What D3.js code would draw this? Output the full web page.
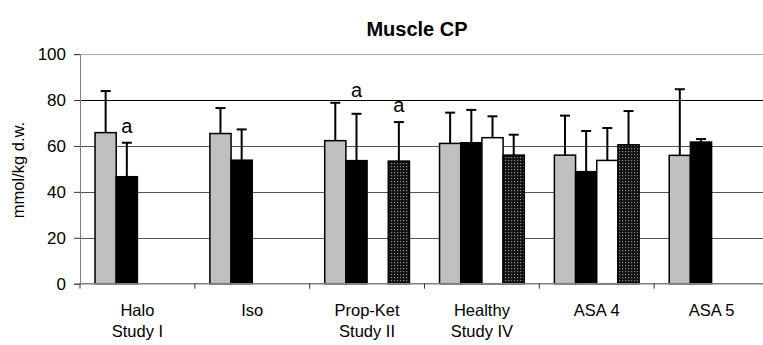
<!DOCTYPE html>
<html>
<head>
<meta charset="utf-8">
<script src="https://cdn.jsdelivr.net/npm/d3@7"></script>
<style>
  html, body { margin: 0; padding: 0; background: #fff; }
  svg { display: block; font-family: "Liberation Sans", Arial, sans-serif; }
</style>
</head>
<body>
<svg id="chart" width="763" height="345"></svg>
<script>
// Muscle creatine phosphate by study group (mean with upper SD)
const categories = [["Halo", "Study I"], ["Iso"], ["Prop-Ket", "Study II"], ["Healthy", "Study IV"], ["ASA 4"], ["ASA 5"]];
const seriesKeys = ["s1", "s2", "s3", "s4"];
const seriesValues = {
  s1: [65.8, 65.4, 62.3, 61.1, 56.0, 55.9],
  s2: [46.6, 53.8, 53.6, 61.4, 48.8, 61.7],
  s3: [null, null, null, 63.6, 53.7, null],
  s4: [null, null, 53.4, 56.0, 60.5, null]
};
const seriesErrorTop = {
  s1: [83.9, 76.5, 78.8, 74.5, 73.2, 84.7],
  s2: [61.4, 67.2, 74.0, 75.7, 66.5, 63.0],
  s3: [null, null, null, 72.9, 67.8, null],
  s4: [null, null, 70.4, 64.9, 75.2, null]
};
// significance markers: [category index, series key, label height in mmol/kg]
const markers = [[0, "s2", 65.6], [2, "s2", 81.3], [2, "s4", 74.6]];
const yTicks = [0, 20, 40, 60, 80, 100];

const svg = d3.select("#chart");
const defs = svg.append("defs");
const pat = defs.append("pattern").attr("id", "dots")
  .attr("patternUnits", "userSpaceOnUse").attr("width", 3).attr("height", 3);
pat.append("rect").attr("width", 3).attr("height", 3).attr("fill", "#111");
pat.append("rect").attr("x", 1).attr("y", 1).attr("width", 1.2).attr("height", 1.2).attr("fill", "#8a8a8a");

const fills = { s1: "#c0c0c0", s2: "#000", s3: "#fff", s4: "url(#dots)" };

const plotLeft = 80, plotRight = 769, plotTop = 54.1, plotBottom = 283.7;
const x = d3.scaleBand().domain(d3.range(categories.length)).range([plotLeft, plotRight]).padding(0);
const xs = d3.scaleBand().domain(seriesKeys).range([0, x.bandwidth()]).paddingInner(0).paddingOuter(0.71);
const y = d3.scaleLinear().domain([0, 100]).range([plotBottom, plotTop]);

// gridlines
const gridColor = v => v === 100 ? "#aaa" : v === 80 ? "#000" : "#555";
svg.append("g").selectAll("line").data(yTicks.filter(v => v > 0)).join("line")
  .attr("x1", plotLeft).attr("x2", 763)
  .attr("y1", d => Math.round(y(d)) + 0.5).attr("y2", d => Math.round(y(d)) + 0.5)
  .attr("stroke", d => gridColor(d)).attr("stroke-width", 1);

// y axis
const yAxis = svg.append("g").attr("transform", `translate(${plotLeft},0)`)
  .call(d3.axisLeft(y).tickValues(yTicks).tickSize(6).tickPadding(8).tickFormat(d3.format("d")));
yAxis.select(".domain").attr("stroke", "#808080");
yAxis.selectAll(".tick line").attr("stroke", "#333");
yAxis.selectAll("text").attr("font-size", 17).attr("fill", "#000")
  .attr("font-family", "Liberation Sans, Arial, sans-serif");

// bars
const bars = [];
seriesKeys.forEach(k => seriesValues[k].forEach((v, i) => {
  if (v != null) bars.push({ k, i, v, e: seriesErrorTop[k][i] });
}));

const g = svg.append("g");
// error bars (upper only)
const eb = g.selectAll("g.err").data(bars).join("g").attr("class", "err");
eb.append("line")
  .attr("x1", d => x(d.i) + xs(d.k) + xs.bandwidth() / 2)
  .attr("x2", d => x(d.i) + xs(d.k) + xs.bandwidth() / 2)
  .attr("y1", d => y(d.v)).attr("y2", d => y(d.e))
  .attr("stroke", "#000").attr("stroke-width", 2);
eb.append("line")
  .attr("x1", d => x(d.i) + xs(d.k) + xs.bandwidth() / 2 - 5)
  .attr("x2", d => x(d.i) + xs(d.k) + xs.bandwidth() / 2 + 5)
  .attr("y1", d => y(d.e)).attr("y2", d => y(d.e))
  .attr("stroke", "#000").attr("stroke-width", 2);

g.selectAll("rect.bar").data(bars).join("rect").attr("class", "bar")
  .attr("x", d => x(d.i) + xs(d.k))
  .attr("width", xs.bandwidth())
  .attr("y", d => y(d.v))
  .attr("height", d => y(0) - y(d.v))
  .attr("fill", d => fills[d.k])
  .attr("stroke", "#000").attr("stroke-width", 1.5);

// x axis
svg.append("line").attr("x1", plotLeft).attr("x2", 763).attr("y1", plotBottom).attr("y2", plotBottom)
  .attr("stroke", "#808080").attr("stroke-width", 1.5);
svg.append("g").selectAll("line").data(d3.range(categories.length)).join("line")
  .attr("x1", d => x(d)).attr("x2", d => x(d))
  .attr("y1", plotBottom).attr("y2", plotBottom + 5)
  .attr("stroke", "#333");

// category labels
const labels = svg.append("g").selectAll("text").data(categories).join("text")
  .attr("text-anchor", "middle").attr("font-size", 16.5).attr("fill", "#000");
labels.each(function (d, i) {
  d3.select(this).selectAll("tspan").data(d).join("tspan")
    .attr("x", x(i) + x.bandwidth() / 2)
    .attr("y", (t, j) => 316 + j * 21)
    .text(t => t);
});

// significance markers
svg.append("g").selectAll("text").data(markers).join("text")
  .attr("x", d => x(d[0]) + xs(d[1]) + xs.bandwidth() / 2)
  .attr("y", d => y(d[2]))
  .attr("text-anchor", "middle").attr("font-size", 20).attr("fill", "#000")
  .text("a");

// title
svg.append("text").attr("x", 417).attr("y", 36).attr("text-anchor", "middle")
  .attr("font-size", 20).attr("font-weight", "bold").text("Muscle CP");

// y-axis title
svg.append("text").attr("transform", "translate(24,170) rotate(-90)")
  .attr("text-anchor", "middle").attr("font-size", 16.5).text("mmol/kg d.w.");
</script>
</body>
</html>
